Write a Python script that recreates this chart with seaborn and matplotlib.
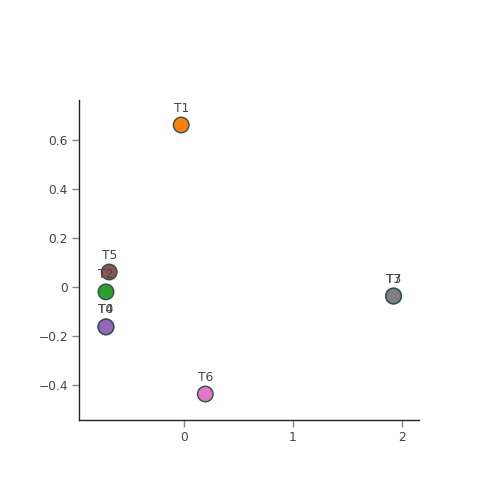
import matplotlib
matplotlib.use("Agg")
import matplotlib.pyplot as plt
import pandas as pd
import seaborn as sns

labels = ["T0", "T1", "T2", "T3", "T4", "T5", "T6", "T7"]
x_vals = [-0.72, -0.028, -0.72, 1.926, -0.72, -0.69, 0.194, 1.926]
y_vals = [-0.163, 0.661, -0.020, -0.037, -0.163, 0.061, -0.437, -0.037]
colors = ["#1f77b4", "#ff7f0e", "#2ca02c", "#d62728",
          "#9467bd", "#8c564b", "#e377c2", "#7f7f7f"]

df = pd.DataFrame({"x": x_vals, "y": y_vals, "label": labels})

sns.set_style("white")
plt.rcParams["font.family"] = ["DejaVu Sans"]

fig = plt.figure(figsize=(5, 5), dpi=100)
ax = fig.add_axes([0.158, 0.16, 0.68, 0.64])

sns.scatterplot(data=df, x="x", y="y", hue="label", palette=colors,
                s=125, edgecolor="#2f4f4f", linewidth=1, legend=False,
                ax=ax, zorder=3)

# labels sit on top of every marker
for lx, ly, lab in zip(x_vals, y_vals, labels):
    ax.annotate(lab, (lx, ly), xytext=(0, 7.5), textcoords="offset points",
                ha="center", va="bottom", fontsize=8.8, color="#444444",
                zorder=5)

ax.set_xlim(-0.968, 2.16)
ax.set_ylim(-0.543, 0.763)
ax.set_xticks([0, 1, 2])
ax.set_yticks([-0.4, -0.2, 0, 0.2, 0.4, 0.6])
ax.set_xticklabels(["0", "1", "2"])
ax.set_yticklabels(["\u22120.4", "\u22120.2", "0", "0.2", "0.4", "0.6"])
ax.set_xlabel("")
ax.set_ylabel("")
ax.tick_params(axis="both", bottom=True, left=True, direction="out",
               length=5, width=1, color="#888888", labelcolor="#444444",
               labelsize=8.8, pad=3)
sns.despine(ax=ax)
for side in ["left", "bottom"]:
    ax.spines[side].set_color("#222222")
    ax.spines[side].set_linewidth(1)

fig.savefig("out.png", dpi=100)
